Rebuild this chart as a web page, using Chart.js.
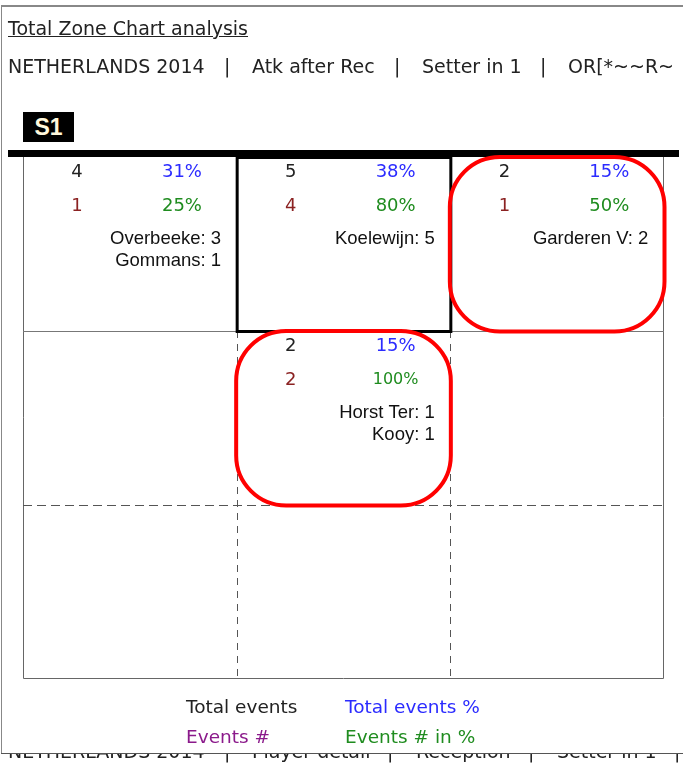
<!DOCTYPE html>
<html><head><meta charset="utf-8">
<script src="https://cdn.jsdelivr.net/npm/chart.js@4/dist/chart.umd.min.js"></script>
<style>
html,body{margin:0;padding:0;background:#fff;width:683px;height:772px;overflow:hidden;}
#wrap{position:relative;width:683px;height:772px;}
#c{position:absolute;left:0;top:0;}
.t{position:absolute;white-space:nowrap;font-family:"DejaVu Sans",sans-serif;color:#222;line-height:1;}
.h{font-size:19px;}
.lg{font-size:18.5px;}
#pageL{position:absolute;left:1px;top:6px;width:1px;height:748px;background:#888;}
#pageT{position:absolute;left:1px;top:5px;width:682px;height:2px;background:#888;}
#pageB{position:absolute;left:1px;top:753px;width:682px;height:1px;background:#555;}
#s1{position:absolute;left:23px;top:112px;width:51px;height:30px;background:#000;color:#fff8dc;font:bold 23px "Liberation Sans",Arial,sans-serif;line-height:30px;text-align:center;}
#bottomClip{position:absolute;left:0;top:754px;width:683px;height:18px;overflow:hidden;}
</style></head><body>
<div id="wrap">
<canvas id="c" width="683" height="772"></canvas>
<div id="pageT"></div><div id="pageL"></div>
<div class="t h" style="left:8px;top:19px;text-decoration:underline;">Total Zone Chart analysis</div>
<div id="sub"></div>
<div id="s1">S1</div>
<div id="legend"></div>
<div id="bottomClip"></div>
<div id="pageB"></div>
</div>
<script>
// ---- data ----
const titleText = "Total Zone Chart analysis";
const subtitleParts = ["NETHERLANDS 2014", "Atk after Rec", "Setter in 1", "OR[*~~R~"];
const footerParts = ["NETHERLANDS 2014", "Player detail", "Reception", "Setter in 1"];
const rotationLabel = "S1";
const zoneCols = [0, 1, 2, 1];
const zoneRows = [0, 0, 0, 1];
const totalEvents = [4, 5, 2, 2];
const totalEventsPct = [31, 38, 15, 15];
const events = [1, 4, 1, 2];
const eventsPct = [25, 80, 50, 100];
const players = [["Overbeeke: 3", "Gommans: 1"], ["Koelewijn: 5"], ["Garderen V: 2"], ["Horst Ter: 1", "Kooy: 1"]];
const circled = [false, false, true, true];
const selectedZone = 1;
const legendLabels = ["Total events", "Total events %", "Events #", "Events # in %"];

// ---- header / footer text ----
const C = {count:'#222', pct:'#2b2bff', ev:'#8b2222', evPct:'#1f8c1f', legPurple:'#8b1a8b'};
function placeParts(parent, parts, lefts, barXs, top){
  parts.forEach((p,i)=>{
    const d=document.createElement('div'); d.className='t h'; d.style.left=lefts[i]+'px'; d.style.top=top+'px'; d.textContent=p; parent.appendChild(d);
  });
  barXs.forEach(x=>{
    const d=document.createElement('div'); d.className='t h'; d.style.left=(x-3)+'px'; d.style.top=top+'px'; d.textContent='|'; parent.appendChild(d);
  });
}
placeParts(document.getElementById('sub'), subtitleParts, [8,252,422,568], [227,397,543], 57);
placeParts(document.getElementById('bottomClip'), footerParts, [8,252,416,557], [227,390,531,677], -12);
const lg = document.getElementById('legend');
[[legendLabels[0],186,698,C.count],[legendLabels[1],345,698,C.pct],[legendLabels[2],186,728,C.legPurple],[legendLabels[3],345,728,C.evPct]].forEach(([txt,l,t,col])=>{
  const d=document.createElement('div'); d.className='t lg'; d.style.left=l+'px'; d.style.top=t+'px'; d.style.color=col; d.textContent=txt; lg.appendChild(d);
});

// ---- court plugin ----
const courtPlugin = {
  id:'court',
  afterDatasetsDraw(chart){
    const {ctx, chartArea:a, scales:{x, y}} = chart;
    const X = v => x.getPixelForValue(v), Y = v => y.getPixelForValue(v);
    ctx.save();
    // net bar
    ctx.fillStyle = '#000';
    ctx.fillRect(a.left - 15, a.top - 7, (a.right - a.left) + 30, 7);
    // outer border
    ctx.strokeStyle = '#666'; ctx.lineWidth = 1;
    ctx.beginPath();
    ctx.moveTo(a.left + 0.5, a.top); ctx.lineTo(a.left + 0.5, a.bottom - 0.5);
    ctx.lineTo(a.right - 0.5, a.bottom - 0.5); ctx.lineTo(a.right - 0.5, a.top);
    ctx.stroke();
    // attack line (solid)
    ctx.strokeStyle = '#777';
    ctx.beginPath(); ctx.moveTo(a.left, Math.round(Y(1)) + 0.5); ctx.lineTo(a.right, Math.round(Y(1)) + 0.5); ctx.stroke();
    [1,2].forEach(v=>{ ctx.beginPath(); ctx.moveTo(Math.round(X(v))+0.5, Y(0)); ctx.lineTo(Math.round(X(v))+0.5, Y(1)); ctx.stroke(); });
    // dashed lines
    ctx.strokeStyle = '#555'; ctx.setLineDash([7, 6]);
    [1,2].forEach(v=>{ ctx.beginPath(); ctx.moveTo(Math.round(X(v))+0.5, Y(1)); ctx.lineTo(Math.round(X(v))+0.5, Y(3)); ctx.stroke(); });
    ctx.setLineDash([9, 5]);
    ctx.beginPath(); ctx.moveTo(a.left, Math.round(Y(2)) + 0.5); ctx.lineTo(a.right, Math.round(Y(2)) + 0.5); ctx.stroke();
    ctx.setLineDash([]);

    const meta = chart.getDatasetMeta(0);
    meta.data.forEach((pt, i) => {
      const raw = chart.data.datasets[0].data[i];
      const L = X(raw.x - 0.5), R = X(raw.x + 0.5), T = Y(raw.y - 0.5), B = Y(raw.y + 0.5);
      const w = R - L;
      if (i === selectedZone) {
        ctx.strokeStyle = '#000'; ctx.lineWidth = 3;
        ctx.strokeRect(L + 0.5, T + 0.5, w, B - T);
      }
      ctx.textBaseline = 'alphabetic';
      const cx = L + 0.253 * w, px = L + 0.744 * w, nr = L + 0.927 * w;
      const numFont = s => s + 'px "DejaVu Sans", sans-serif';
      ctx.textAlign = 'center';
      ctx.font = numFont(18);
      ctx.fillStyle = C.count; ctx.fillText(String(totalEvents[i]), cx, T + 20);
      ctx.fillStyle = C.pct; ctx.fillText(totalEventsPct[i] + '%', px, T + 20);
      ctx.fillStyle = C.ev; ctx.fillText(String(events[i]), cx, T + 54);
      const ep = eventsPct[i] + '%';
      ctx.font = numFont(ep.length > 3 ? 16 : 18);
      ctx.fillStyle = C.evPct; ctx.fillText(ep, px, T + (ep.length > 3 ? 53 : 54));
      ctx.textAlign = 'right';
      ctx.font = '18.5px "Liberation Sans", Arial, sans-serif';
      ctx.fillStyle = '#111';
      players[i].forEach((n, k) => ctx.fillText(n, nr, T + 86.5 + k * 22.5));
      if (circled[i]) {
        ctx.strokeStyle = '#ff0000'; ctx.lineWidth = 4;
        ctx.beginPath();
        ctx.roundRect(L - 0.5, T, w + 1, B - T + 0.5, 50);
        ctx.stroke();
      }
    });
    ctx.restore();
  }
};

new Chart(document.getElementById('c'), {
  type: 'scatter',
  data: {
    datasets: [{
      label: 'Zones',
      data: zoneCols.map((c, i) => ({x: c + 0.5, y: zoneRows[i] + 0.5})),
      pointRadius: 0, pointHoverRadius: 0, showLine: false
    }]
  },
  options: {
    responsive: false, animation: false, devicePixelRatio: 1,
    layout: {padding: {left: 23, top: 157, right: 19, bottom: 93}},
    plugins: {legend: {display: false}, tooltip: {enabled: false}, title: {display: false}},
    events: [],
    scales: {
      x: {type: 'linear', min: 0, max: 3, display: false},
      y: {type: 'linear', min: 0, max: 3, reverse: true, display: false}
    }
  },
  plugins: [courtPlugin]
});
</script>
</body></html>
